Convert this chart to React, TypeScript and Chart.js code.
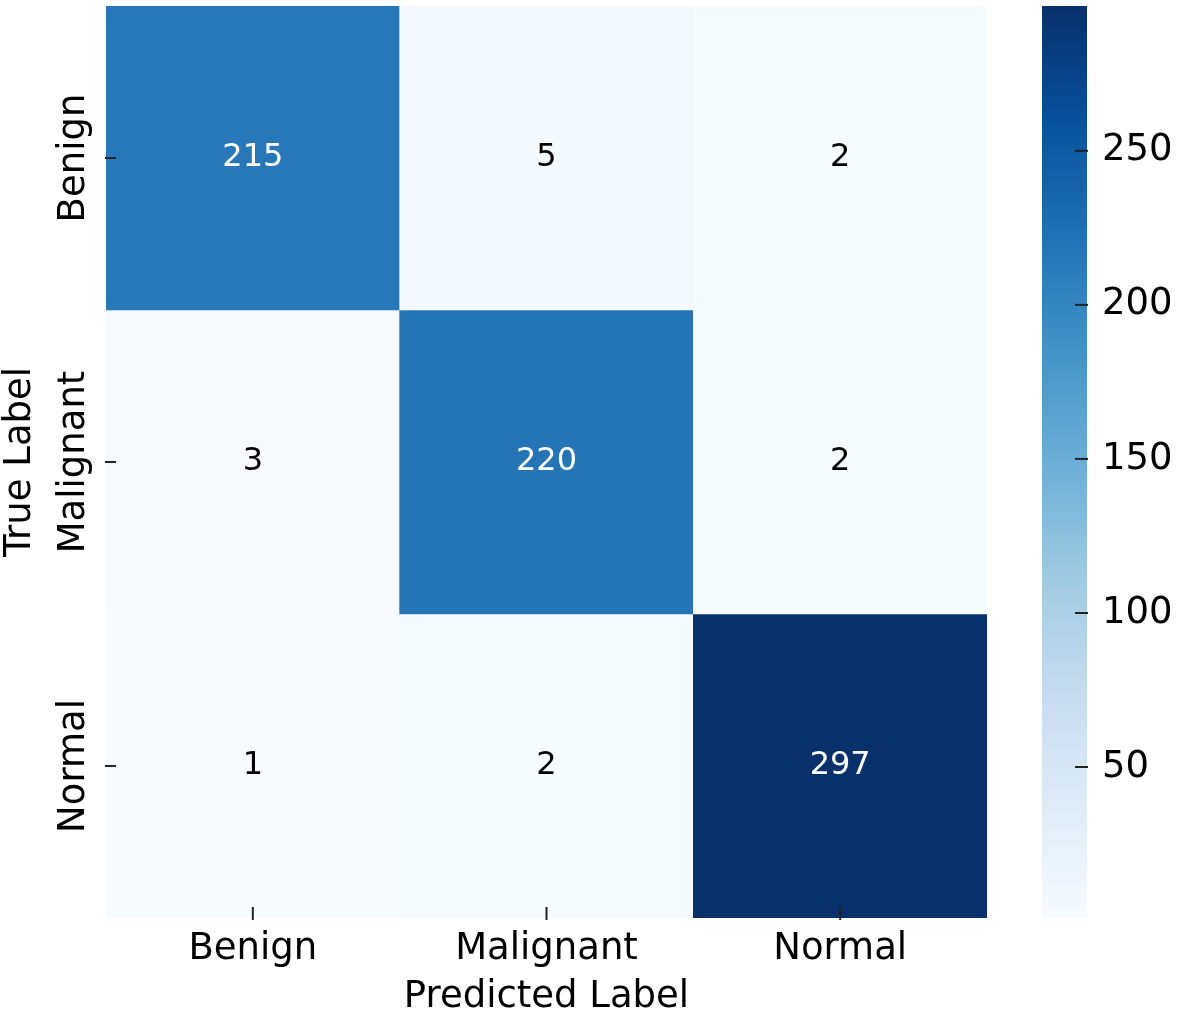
import React, { useEffect, useRef } from 'react';
import { Chart, registerables } from 'chart.js';

Chart.register(...registerables);

// ---- data ----
const predictedLabels = ['Benign', 'Malignant', 'Normal'];
const trueLabels = ['Benign', 'Malignant', 'Normal'];
const rowBenign = [215, 5, 2];
const rowMalignant = [3, 220, 2];
const rowNormal = [1, 2, 297];
const matrixRows = [rowBenign, rowMalignant, rowNormal];
const colorbarTicks = [50, 100, 150, 200, 250];
const xTitle = 'Predicted Label';
const yTitle = 'True Label';

// matplotlib "Blues" colormap stops
const bluesStops: [number, number[]][] = [
  [0.0, [247, 251, 255]],
  [0.125, [222, 235, 247]],
  [0.25, [198, 219, 239]],
  [0.375, [158, 202, 225]],
  [0.5, [107, 174, 214]],
  [0.625, [66, 146, 198]],
  [0.75, [33, 113, 181]],
  [0.875, [8, 81, 156]],
  [1.0, [8, 48, 107]],
];

const allValues = matrixRows.flat();
const valueMin = Math.min(...allValues);
const valueMax = Math.max(...allValues);

const FONT = "'DejaVu Sans', 'Liberation Sans', sans-serif";

function bluesRGB(t: number): number[] {
  const tt = Math.max(0, Math.min(1, t));
  for (let i = 0; i < bluesStops.length - 1; i++) {
    const [p0, c0] = bluesStops[i];
    const [p1, c1] = bluesStops[i + 1];
    if (tt >= p0 && tt <= p1) {
      const f = (tt - p0) / (p1 - p0);
      return c0.map((v, k) => Math.round(v + (c1[k] - v) * f));
    }
  }
  return bluesStops[bluesStops.length - 1][1];
}

function colorFor(v: number): string {
  const c = bluesRGB((v - valueMin) / (valueMax - valueMin));
  return `rgb(${c[0]},${c[1]},${c[2]})`;
}

function textColorFor(v: number): string {
  const c = bluesRGB((v - valueMin) / (valueMax - valueMin)).map((x) => {
    const s = x / 255;
    return s <= 0.03928 ? s / 12.92 : Math.pow((s + 0.055) / 1.055, 2.4);
  });
  const lum = 0.2126 * c[0] + 0.7152 * c[1] + 0.0722 * c[2];
  return lum > 0.408 ? '#000000' : '#ffffff';
}

const TICK_COLOR = '#222222';

export default function App() {
  const heatRef = useRef<HTMLCanvasElement | null>(null);
  const barRef = useRef<HTMLCanvasElement | null>(null);

  useEffect(() => {
    document.body.style.margin = '0';
    document.body.style.background = '#ffffff';
    if (!heatRef.current || !barRef.current) return;

    const heatDecor = {
      id: 'heatDecor',
      afterDatasetsDraw(chart: any) {
        const ctx = chart.ctx;
        ctx.save();
        ctx.font = `32px ${FONT}`;
        ctx.textAlign = 'center';
        ctx.textBaseline = 'middle';
        chart.data.datasets.forEach((_ds: any, r: number) => {
          const meta = chart.getDatasetMeta(r);
          meta.data.forEach((el: any, c: number) => {
            const v = matrixRows[r][c];
            ctx.fillStyle = textColorFor(v);
            ctx.fillText(String(v), el.x, (el.y + el.base) / 2);
          });
        });
        ctx.restore();
      },
      afterDraw(chart: any) {
        const ctx = chart.ctx;
        const area = chart.chartArea;
        const xs = chart.scales.x;
        const ys = chart.scales.y;
        ctx.save();
        ctx.strokeStyle = TICK_COLOR;
        ctx.lineWidth = 2;
        xs.ticks.forEach((_t: any, i: number) => {
          const px = xs.getPixelForTick(i);
          ctx.beginPath();
          ctx.moveTo(px, area.bottom - 11);
          ctx.lineTo(px, area.bottom + 2);
          ctx.stroke();
        });
        ys.ticks.forEach((_t: any, i: number) => {
          const py = ys.getPixelForTick(i);
          ctx.beginPath();
          ctx.moveTo(area.left - 1, py);
          ctx.lineTo(area.left + 10, py);
          ctx.stroke();
        });
        // rotated y tick labels
        ctx.fillStyle = '#000000';
        ctx.font = `37px ${FONT}`;
        ctx.textAlign = 'center';
        ctx.textBaseline = 'middle';
        ys.ticks.forEach((_t: any, i: number) => {
          const py = ys.getPixelForTick(i);
          ctx.save();
          ctx.translate(area.left - 32, py);
          ctx.rotate(-Math.PI / 2);
          ctx.fillText(trueLabels[i], 0, 0);
          ctx.restore();
        });
        ctx.restore();
      },
    };

    const heat = new Chart(heatRef.current, {
      type: 'bar',
      data: {
        labels: predictedLabels,
        datasets: matrixRows.map((row, r) => ({
          label: trueLabels[r],
          data: row.map(() => [r, r + 1]),
          backgroundColor: row.map((v) => colorFor(v)),
          borderWidth: 0,
          grouped: false,
          barPercentage: 1,
          categoryPercentage: 1,
        })) as any,
      },
      options: {
        animation: false,
        responsive: false,
        maintainAspectRatio: false,
        devicePixelRatio: 1,
        layout: { padding: { top: 6, right: 13, left: 0, bottom: 0 } },
        plugins: { legend: { display: false }, tooltip: { enabled: false } },
        scales: {
          x: {
            type: 'category',
            offset: true,
            grid: { display: false, drawTicks: false },
            border: { display: false },
            ticks: {
              color: '#000000',
              font: { family: FONT, size: 37 },
              padding: 9,
              minRotation: 0,
              maxRotation: 0,
            },
            title: {
              display: true,
              text: xTitle,
              color: '#000000',
              font: { family: FONT, size: 37, lineHeight: 0.9 },
              padding: 0,
            },
            afterFit: (s: any) => {
              s.height = 96;
            },
          },
          y: {
            type: 'linear',
            min: 0,
            max: trueLabels.length,
            reverse: true,
            grid: { display: false, drawTicks: false },
            border: { display: false },
            ticks: { display: false },
            afterBuildTicks: (s: any) => {
              s.ticks = trueLabels.map((_l, i) => ({ value: i + 0.5 }));
            },
            title: {
              display: true,
              text: yTitle,
              color: '#000000',
              font: { family: FONT, size: 37, lineHeight: 0.9 },
              padding: { top: 4, bottom: 0 },
            },
            afterFit: (s: any) => {
              s.width = 106;
            },
          },
        },
      } as any,
      plugins: [heatDecor],
    });

    const barDecor = {
      id: 'barDecor',
      afterDraw(chart: any) {
        const ctx = chart.ctx;
        const area = chart.chartArea;
        const ys = chart.scales.y;
        ctx.save();
        ctx.strokeStyle = TICK_COLOR;
        ctx.lineWidth = 2;
        ys.ticks.forEach((t: any) => {
          const py = ys.getPixelForValue(t.value);
          ctx.beginPath();
          ctx.moveTo(area.right - 12, py);
          ctx.lineTo(area.right + 1, py);
          ctx.stroke();
        });
        ctx.restore();
      },
    };

    const bar = new Chart(barRef.current, {
      type: 'bar',
      data: {
        labels: [''],
        datasets: [
          {
            data: [[valueMin, valueMax]] as any,
            backgroundColor: (context: any) => {
              const chart = context.chart;
              const ys = chart.scales.y;
              if (!chart.chartArea || !ys) return colorFor(valueMax);
              const g = chart.ctx.createLinearGradient(
                0,
                ys.getPixelForValue(valueMin),
                0,
                ys.getPixelForValue(valueMax)
              );
              bluesStops.forEach(([p, c]) => g.addColorStop(p, `rgb(${c[0]},${c[1]},${c[2]})`));
              return g;
            },
            borderWidth: 0,
            barPercentage: 1,
            categoryPercentage: 1,
          },
        ],
      },
      options: {
        animation: false,
        responsive: false,
        maintainAspectRatio: false,
        devicePixelRatio: 1,
        layout: { padding: { top: 6, bottom: 96, left: 42, right: 0 } },
        plugins: { legend: { display: false }, tooltip: { enabled: false } },
        scales: {
          x: { display: false },
          y: {
            position: 'right',
            min: valueMin,
            max: valueMax,
            grid: { display: false, drawTicks: false },
            border: { display: false },
            afterBuildTicks: (s: any) => {
              s.ticks = colorbarTicks.map((v) => ({ value: v }));
            },
            ticks: {
              color: '#000000',
              font: { family: FONT, size: 37 },
              padding: 15,
            },
            afterFit: (s: any) => {
              s.width = 94;
              s.paddingTop = 0;
              s.paddingBottom = 0;
            },
          },
        },
      } as any,
      plugins: [barDecor],
    });

    return () => {
      heat.destroy();
      bar.destroy();
    };
  }, []);

  return (
    <div style={{ position: 'relative', width: 1181, height: 1014, background: '#ffffff' }}>
      <canvas
        ref={heatRef}
        width={1000}
        height={1014}
        style={{ position: 'absolute', left: 0, top: 0, width: 1000, height: 1014 }}
      />
      <canvas
        ref={barRef}
        width={181}
        height={1014}
        style={{ position: 'absolute', left: 1000, top: 0, width: 181, height: 1014 }}
      />
    </div>
  );
}
